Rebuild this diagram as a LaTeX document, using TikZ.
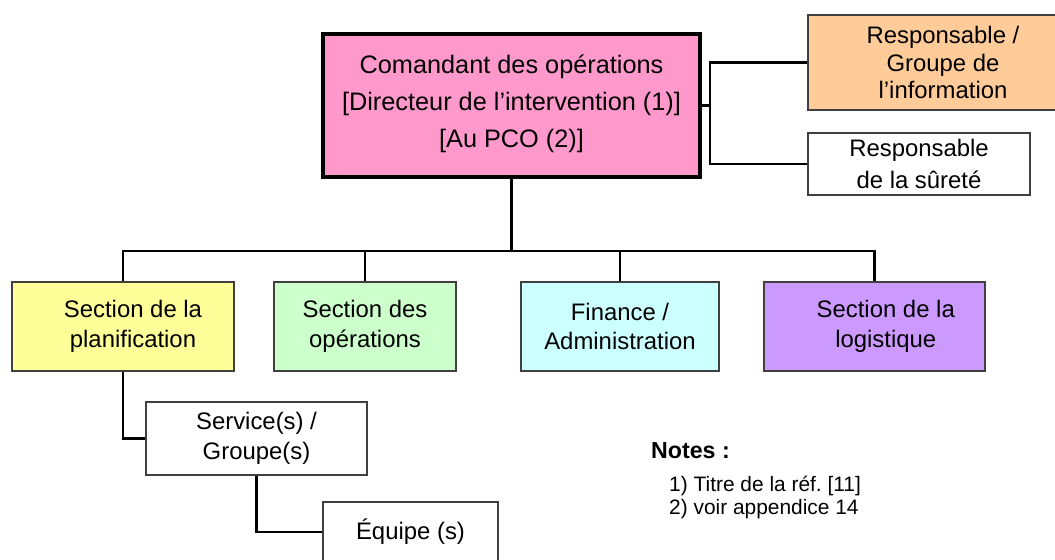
\documentclass[tikz,border=0pt]{standalone}
\usepackage{fontspec}
\setmainfont{Liberation Sans}
\frenchspacing
\definecolor{rose}{HTML}{FF99CC}
\definecolor{peach}{HTML}{FFCC99}
\definecolor{lemon}{HTML}{FFFF99}
\definecolor{mint}{HTML}{CCFFCC}
\definecolor{ice}{HTML}{CCFFFF}
\definecolor{lilac}{HTML}{CC99FF}
\definecolor{edge}{HTML}{404040}
\tikzset{box/.style={draw=edge,line width=.8pt,align=center,inner sep=0pt,font=\fontsize{13.6}{17}\selectfont},link/.style={line width=1.4pt,draw=black},note/.style={anchor=west,align=left,font=\fontsize{11.9}{13}\selectfont}}

\begin{document}
\begin{tikzpicture}[x=.02cm,y=-.02cm]
\useasboundingbox (0,0) rectangle (1055,559);
\clip (0,0) rectangle (1055,559);
% chef
\node[box,draw=black,line width=2.5pt,fill=rose,minimum width=7.54cm,minimum height=2.86cm,font=\fontsize{14.4}{21}\selectfont] (cmd) at (511.5,105.5) {Comandant des opérations\\\relax[Directeur de l’intervention (1)]\\\relax[Au PCO (2)]\\[-16pt]\mbox{}};
\node[box,fill=peach,minimum width=5.4cm,minimum height=1.9cm,font=\fontsize{13.6}{15.9}\selectfont] (info) at (943,62.5) {Responsable /\\Groupe de\\l’information};
\node[box,fill=white,minimum width=4.44cm,minimum height=1.24cm,font=\fontsize{13.6}{18}\selectfont] (surete) at (919,164) {Responsable\\de la sûreté};
% sections
\node[box,fill=lemon,minimum width=4.44cm,minimum height=1.78cm] (plan) at (123,326.5) {\hspace*{.4cm}Section de la\\\hspace*{.4cm}planification};
\node[box,fill=mint,minimum width=3.64cm,minimum height=1.78cm] (ops) at (365,326.5) {Section des\\opérations};
\node[box,fill=ice,minimum width=3.96cm,minimum height=1.78cm] (fin) at (620,326.5) {Finance /\\Administration};
\node[box,fill=lilac,minimum width=4.42cm,minimum height=1.78cm] (logi) at (874.5,326.5) {\hspace*{.45cm}Section de la\\\hspace*{.45cm}logistique};
\node[box,fill=white,minimum width=4.42cm,minimum height=1.46cm] (serv) at (256.5,438.5) {Service(s) /\\Groupe(s)};
\node[box,fill=white,minimum width=3.5cm,minimum height=1.2cm] (equipe) at (410.5,532) {Équipe (s)};
% liens
\coordinate (bus) at (511.5,251);
\path (cmd.east) ++(8,0) coordinate (rj);
\draw[link] (cmd.south)--(bus);
\draw[link] (plan.north)|-(bus)-|(logi.north);
\draw[link] (ops.north)--(ops.north|-bus);
\draw[link] (fin.north)--(fin.north|-bus);
\draw[link] (cmd.east)--(rj);
\draw[link] (info.west)-|(rj)|-(surete.west);
\draw[link] (plan.south)|-(serv.west);
\draw[link] (serv.south)|-(equipe.west);
% notes
\node[anchor=west,font=\fontsize{13.2}{15}\selectfont\bfseries] (notes) at (645,451) {Notes :};
\node[note] (liste) at (663,497.5) {1) Titre de la réf. [11]\\2) voir appendice 14};
\end{tikzpicture}
\end{document}
